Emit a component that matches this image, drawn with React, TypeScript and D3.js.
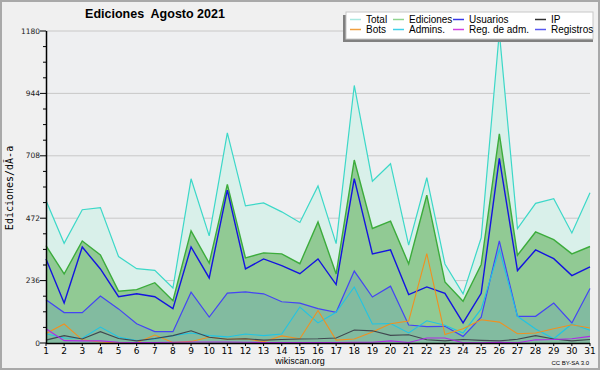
import * as React from 'react';
import * as d3 from 'd3';

// Chart data
const days = [1, 2, 3, 4, 5, 6, 7, 8, 9, 10, 11, 12, 13, 14, 15, 16, 17, 18, 19, 20, 21, 22, 23, 24, 25, 26, 27, 28, 29, 30, 31]
const total = [539, 377, 504, 512, 327, 281, 275, 208, 621, 405, 795, 519, 530, 496, 456, 594, 376, 974, 612, 678, 370, 625, 299, 186, 398, 1175, 433, 528, 546, 416, 568]
const ediciones = [368, 261, 386, 333, 196, 202, 228, 160, 424, 302, 600, 322, 341, 337, 300, 458, 261, 692, 433, 461, 299, 559, 231, 158, 297, 791, 332, 420, 391, 337, 365]
const usuarios = [318, 151, 363, 280, 175, 186, 175, 130, 363, 246, 578, 280, 318, 293, 262, 318, 221, 622, 337, 352, 183, 212, 188, 76, 188, 698, 274, 352, 319, 255, 288]
const registros = [164, 115, 115, 178, 129, 73, 43, 43, 192, 98, 189, 193, 186, 156, 151, 130, 116, 272, 174, 215, 68, 62, 63, 25, 98, 386, 101, 101, 151, 76, 206]
const admins = [35, 19, 18, 60, 23, 9, 15, 28, 38, 28, 23, 34, 28, 34, 136, 76, 116, 212, 72, 74, 38, 84, 67, 38, 129, 353, 101, 53, 16, 72, 48]
const bots = [36, 72, 12, 4, 0, 1, 30, 2, 6, 22, 14, 16, 5, 27, 16, 123, 11, 15, 42, 73, 83, 338, 32, 54, 88, 79, 35, 38, 54, 69, 57]
const ip = [11, 28, 15, 43, 17, 8, 17, 28, 46, 22, 14, 16, 11, 13, 15, 16, 19, 49, 46, 29, 31, 12, 8, 13, 10, 8, 14, 28, 15, 8, 13]
const regAdm = [54, 9, 8, 8, 3, 2, 2, 3, 4, 4, 4, 3, 2, 2, 2, 2, 2, 3, 3, 8, 2, 19, 19, 1, 1, 3, 1, 12, 13, 16, 25]

const yMajor = [0, 236, 472, 708, 944, 1180]
const yMinor = [59, 118, 177, 295, 354, 413, 531, 590, 649, 767, 826, 885, 1003, 1062, 1121]

const legendLabels = [['Total', 'Ediciones', 'Usuarios', 'IP'], ['Bots', 'Admins.', 'Reg. de adm.', 'Registros']]
const legendColors = [['#a8e8e0', '#90d490', '#3838e8', '#303030'], ['#f0a040', '#40d0e8', '#d040e0', '#5858f0']]
const legendCols = [350, 393, 453, 535]

const W = 600, H = 370
const plot = { left: 46, right: 590, top: 31, bottom: 343 }

const x = d3.scaleLinear().domain([1, 31]).range([plot.left, plot.right])
const y = d3.scaleLinear().domain([0, 1180]).range([plot.bottom, plot.top])

const line = d3.line<number>().x((_, i) => x(days[i])).y(d => y(d))
const area = d3.area<number>().x((_, i) => x(days[i])).y0(y(0)).y1(d => y(d))

const sans = 'Liberation Sans, Arial, sans-serif'

export default function App() {
    return (
        <div style={{ position: 'absolute', left: 0, top: 0 }}>
            <svg width={W} height={H} style={{ display: 'block' }}>
                <rect x={0} y={0} width={W} height={H} fill="#f0f0f0" />
                <rect x={1} y={1} width={W - 2} height={H - 2} fill="none" stroke="#a9a9a9" strokeWidth={2} />
                <rect x={plot.left} y={plot.top} width={plot.right - plot.left} height={plot.bottom - plot.top} fill="#eeeff1" />

                {/* grid */}
                {yMajor.filter(v => v > 0).map(v => (
                    <line key={v} x1={plot.left} x2={plot.right} y1={y(v)} y2={y(v)} stroke="#c8c8c8" strokeWidth={1} />
                ))}

                {/* filled areas */}
                <path d={area(total)} fill="#d9f0ea" />
                <path d={area(ediciones)} fill="#91ca94" />
                <path d={area(registros)} fill="#82bba0" />

                {/* lines */}
                <path d={line(total)} fill="none" stroke="#3cd8c8" strokeWidth={1.2} />
                <path d={line(ediciones)} fill="none" stroke="#3cac3c" strokeWidth={1.4} />
                <path d={line(usuarios)} fill="none" stroke="#1414e0" strokeWidth={1.4} />
                <path d={line(registros)} fill="none" stroke="#4444f4" strokeWidth={1.2} />
                <path d={line(admins)} fill="none" stroke="#20c4e4" strokeWidth={1.1} />
                <path d={line(bots)} fill="none" stroke="#f09020" strokeWidth={1.1} />
                <path d={line(ip)} fill="none" stroke="#404850" strokeWidth={1.1} />
                <path d={line(regAdm)} fill="none" stroke="#b028e8" strokeWidth={1.1} />

                {/* y axis */}
                <line x1={plot.left + 0.5} x2={plot.left + 0.5} y1={plot.top} y2={plot.bottom} stroke="#000" strokeWidth={1.5} />
                {yMajor.map(v => (
                    <g key={v}>
                        <line x1={plot.left - 6} x2={plot.left} y1={y(v)} y2={y(v)} stroke="#000" />
                        <text x={plot.left - 6} y={y(v) + 2.5} textAnchor="end" fontFamily="DejaVu Sans" fontSize={7.5} fill="#202020">{v}</text>
                    </g>
                ))}
                {yMinor.map(v => (
                    <line key={v} x1={plot.left - 3} x2={plot.left} y1={y(v)} y2={y(v)} stroke="#000" />
                ))}
                <text transform={`translate(13,${188}) rotate(-90)`} textAnchor="middle" fontFamily="DejaVu Sans Mono" fontSize={10} fill="#000">Ediciones/dÃ-a</text>

                {/* x axis */}
                <line x1={plot.left} x2={plot.right} y1={plot.bottom + 0.5} y2={plot.bottom + 0.5} stroke="#000" strokeWidth={1.5} />
                {days.map(d => (
                    <g key={d}>
                        <line x1={x(d)} x2={x(d)} y1={plot.bottom} y2={plot.bottom + 3} stroke="#000" />
                        <text x={x(d)} y={354} textAnchor="middle" fontFamily="DejaVu Sans" fontSize={9} fill="#000">{d}</text>
                    </g>
                ))}

                {/* title */}
                <text x={155} y={18} textAnchor="middle" fontFamily={sans} fontWeight="bold" fontSize={12.5} fill="#000" style={{ whiteSpace: 'pre' }}>{'Ediciones  Agosto 2021'}</text>

                {/* legend */}
                <rect x={343} y={15} width={250} height={27} fill="#808080" />
                <rect x={346} y={12} width={247} height={27} fill="#ffffff" stroke="#c8c8c8" />
                {legendLabels.map((row, r) => row.map((label, c) => (
                    <g key={label}>
                        <line x1={legendCols[c]} x2={legendCols[c] + 11} y1={19.5 + r * 10} y2={19.5 + r * 10} stroke={legendColors[r][c]} strokeWidth={1.5} />
                        <text x={legendCols[c] + 16} y={23 + r * 10} fontFamily={sans} fontSize={10} fill="#000">{label}</text>
                    </g>
                )))}

                {/* footer */}
                <text x={300} y={364} textAnchor="middle" fontFamily={sans} fontSize={9} fill="#000">wikiscan.org</text>
                <text x={589} y={364.5} textAnchor="end" fontFamily={sans} fontSize={6} fill="#000">CC BY-SA 3.0</text>
            </svg>
        </div>
    )
}
